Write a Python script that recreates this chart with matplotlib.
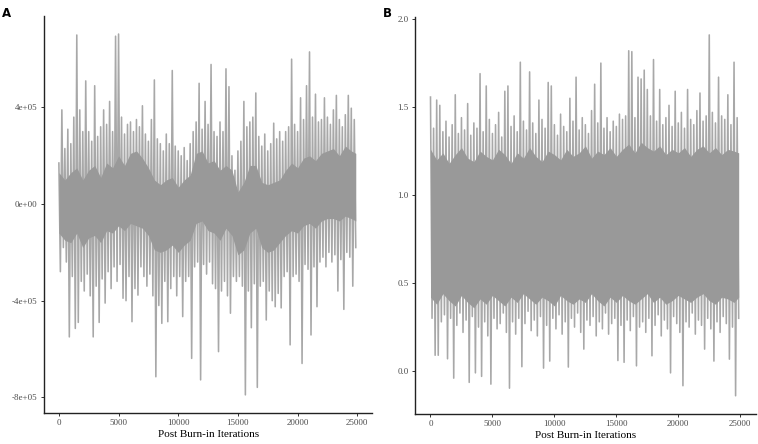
import matplotlib
matplotlib.use("Agg")
import matplotlib.pyplot as plt
import numpy as np

# ---------------- data ----------------
# Window width in iterations; each window holds its max and min of the trace
window = 250
n_iter = 25000

# Panel A: per-window maximum / minimum (units of 1e5)
a_hi = [1.7, 3.9, 2.3, 3.1, 2.5, 3.6, 7.0, 3.9, 3.0, 5.1,
        3.0, 2.6, 4.9, 2.8, 3.2, 3.9, 3.3, 4.25, 3.0, 6.95,
        7.04, 3.6, 2.9, 3.3, 3.4, 3.0, 3.5, 3.2, 4.07, 2.9,
        2.6, 3.5, 5.14, 2.7, 2.5, 2.2, 2.9, 2.5, 5.53, 2.4,
        2.2, 2.0, 2.34, 1.8, 2.5, 3.0, 3.4, 5.0, 3.1, 4.25,
        3.3, 5.78, 3.0, 2.8, 3.4, 3.0, 5.6, 4.86, 2.0, 1.4,
        2.2, 2.6, 4.25, 3.2, 3.4, 3.6, 4.6, 2.8, 2.4, 2.9,
        2.2, 2.5, 3.35, 2.7, 3.0, 2.6, 3.0, 3.2, 6.0, 3.3,
        3.0, 4.4, 3.5, 4.9, 6.3, 3.6, 4.55, 3.4, 3.5, 4.4,
        3.6, 3.3, 3.9, 4.5, 3.5, 3.2, 3.7, 4.5, 3.97, 3.5]
a_lo = [-2.8, -1.8, -2.4, -5.5, -3.0, -5.15, -4.9, -3.2, -3.6, -2.9,
        -3.8, -5.5, -3.4, -4.9, -3.1, -4.1, -2.8, -3.5, -2.6, -3.2,
        -2.5, -3.9, -4.0, -3.0, -4.87, -3.5, -3.77, -2.6, -3.0, -3.4,
        -2.9, -3.8, -7.15, -4.2, -4.94, -3.2, -4.87, -3.5, -3.0, -3.8,
        -3.0, -4.66, -3.2, -3.0, -6.39, -2.6, -2.4, -7.28, -2.5, -2.9,
        -2.4, -3.3, -3.5, -6.11, -3.6, -3.2, -3.8, -4.52, -3.0, -3.2,
        -3.0, -3.4, -7.9, -3.6, -5.12, -3.3, -7.59, -3.4, -3.2, -4.8,
        -3.6, -4.0, -4.25, -3.7, -4.3, -3.0, -2.8, -5.83, -3.0, -2.9,
        -3.2, -6.6, -2.5, -2.7, -5.42, -2.6, -4.25, -2.4, -2.2, -2.6,
        -2.0, -2.4, -2.1, -3.6, -2.3, -4.36, -2.0, -2.2, -3.4, -1.8]
# Panel A: bounds of the dense (solid) band, every 500 iterations (units of 1e5)
core_step = 500
a_core_hi = [1.3, 1.0, 1.3, 1.5, 1.0, 1.4, 1.6, 1.1, 1.7, 1.5,
             2.0, 1.6, 2.1, 2.2, 1.9, 1.5, 1.0, 0.8, 1.0, 1.1,
             0.7, 1.0, 1.2, 2.1, 2.2, 1.7, 1.8, 1.4, 1.6, 1.4,
             0.5, 0.9, 1.6, 1.6, 0.9, 0.8, 0.9, 1.0, 1.4, 1.7,
             1.5, 1.9, 2.0, 1.8, 2.1, 2.2, 2.3, 2.0, 2.4, 2.2, 2.1]
a_core_lo = [-1.2, -1.5, -1.6, -1.2, -1.8, -1.4, -1.3, -1.6, -1.1, -1.2,
             -0.9, -1.1, -0.8, -0.9, -1.0, -1.3, -1.9, -2.0, -1.9, -1.7,
             -2.0, -1.7, -1.5, -0.8, -0.7, -1.1, -1.2, -1.5, -1.0, -1.3,
             -2.1, -1.9, -1.2, -1.0, -1.8, -2.0, -1.9, -1.6, -1.3, -1.1,
             -1.2, -0.9, -0.8, -1.0, -0.7, -0.6, -0.6, -0.7, -0.5, -0.6, -0.7]
a_scale = 1e5

# Panel B: per-window maximum / minimum
b_hi = [1.557, 1.38, 1.54, 1.51, 1.36, 1.42, 1.33, 1.40, 1.57, 1.35,
        1.44, 1.37, 1.52, 1.34, 1.41, 1.38, 1.69, 1.36, 1.62, 1.43,
        1.35, 1.40, 1.47, 1.33, 1.59, 1.62, 1.39, 1.45, 1.36, 1.755,
        1.42, 1.37, 1.70, 1.41, 1.35, 1.54, 1.43, 1.38, 1.64, 1.62,
        1.40, 1.34, 1.46, 1.39, 1.36, 1.55, 1.42, 1.67, 1.37, 1.44,
        1.40, 1.35, 1.48, 1.63, 1.41, 1.75, 1.38, 1.44, 1.36, 1.42,
        1.39, 1.46, 1.43, 1.45, 1.82, 1.815, 1.44, 1.67, 1.66, 1.71,
        1.60, 1.45, 1.77, 1.42, 1.60, 1.40, 1.44, 1.51, 1.39, 1.59,
        1.41, 1.47, 1.38, 1.60, 1.43, 1.40, 1.48, 1.58, 1.42, 1.45,
        1.91, 1.47, 1.41, 1.67, 1.45, 1.43, 1.57, 1.40, 1.755, 1.44]
b_lo = [0.30, 0.09, 0.09, 0.28, 0.32, 0.07, 0.30, -0.04, 0.26, 0.33,
        0.22, 0.29, -0.064, 0.31, -0.01, 0.25, -0.03, 0.28, 0.20, -0.074,
        0.30, 0.24, 0.27, 0.33, 0.22, -0.097, 0.28, 0.21, 0.30, 0.025,
        0.27, 0.34, 0.23, 0.29, 0.20, 0.31, 0.017, 0.26, 0.057, 0.30,
        0.24, 0.32, 0.21, 0.28, 0.023, 0.30, 0.25, 0.33, 0.22, 0.125,
        0.29, 0.26, 0.31, 0.20, 0.28, 0.24, 0.33, 0.21, 0.27, 0.30,
        0.06, 0.26, 0.05, 0.29, 0.23, 0.31, 0.03, 0.25, 0.28, 0.22,
        0.30, 0.087, 0.26, 0.32, 0.20, 0.29, 0.24, -0.01, 0.31, 0.27,
        0.22, -0.083, 0.28, 0.25, 0.33, 0.21, 0.29, 0.26, 0.125, 0.30,
        0.24, 0.057, 0.28, 0.22, 0.31, 0.27, 0.068, 0.25, -0.14, 0.30]
# Panel B: bounds of the dense band, every 500 iterations
b_core_hi = [1.26, 1.20, 1.24, 1.18, 1.23, 1.27, 1.21, 1.19, 1.25, 1.22,
             1.20, 1.26, 1.23, 1.18, 1.24, 1.21, 1.27, 1.22, 1.19, 1.25,
             1.23, 1.20, 1.26, 1.22, 1.24, 1.28, 1.21, 1.25, 1.23, 1.27,
             1.22, 1.26, 1.29, 1.24, 1.30, 1.27, 1.25, 1.28, 1.23, 1.26,
             1.24, 1.27, 1.22, 1.26, 1.28, 1.24, 1.27, 1.23, 1.26, 1.25, 1.24]
b_core_lo = [0.42, 0.38, 0.44, 0.40, 0.37, 0.43, 0.39, 0.36, 0.41, 0.38,
             0.43, 0.40, 0.37, 0.42, 0.39, 0.44, 0.41, 0.38, 0.42, 0.40,
             0.37, 0.43, 0.40, 0.38, 0.41, 0.39, 0.44, 0.40, 0.37, 0.42,
             0.39, 0.43, 0.40, 0.38, 0.41, 0.44, 0.39, 0.42, 0.38, 0.40,
             0.43, 0.41, 0.39, 0.42, 0.44, 0.40, 0.38, 0.42, 0.41, 0.39, 0.42]

x_ticks = [0, 5000, 10000, 15000, 20000, 25000]
a_yticks = [4e5, 0, -4e5, -8e5]
a_yticklabels = ["4e+05", "0e+00", "-4e+05", "-8e+05"]
b_yticks = [0.0, 0.5, 1.0, 1.5, 2.0]
b_yticklabels = ["0.0", "0.5", "1.0", "1.5", "2.0"]
x_label = "Post Burn-in Iterations"
panel_labels = ["A", "B"]

# ---------------- drawing ----------------
def trace(hi, lo, scale=1.0):
    xs, ys = [], []
    for k, (h, l) in enumerate(zip(hi, lo)):
        xs += [k * window, k * window + window / 2]
        ys += [h * scale, l * scale]
    return np.array(xs), np.array(ys)

plt.rcParams["font.family"] = ["Liberation Serif", "DejaVu Serif"]
fig = plt.figure(figsize=(7.58, 4.44), dpi=100)

axA = fig.add_axes([0.058, 0.070, 0.433, 0.894])
axB = fig.add_axes([0.5475, 0.068, 0.4495, 0.894])

line_col = "#999999"
for ax, hi, lo, chi, clo, sc, yt, ytl in [
    (axA, a_hi, a_lo, a_core_hi, a_core_lo, a_scale, a_yticks, a_yticklabels),
    (axB, b_hi, b_lo, b_core_hi, b_core_lo, 1.0, b_yticks, b_yticklabels),
]:
    xs, ys = trace(hi, lo, sc)
    cx = np.arange(len(chi)) * core_step
    cx = np.minimum(cx, xs.max())
    ax.fill_between(cx, np.array(clo) * sc, np.array(chi) * sc,
                    color=line_col, lw=0)
    ax.plot(xs, ys, color=line_col, lw=1.15, alpha=0.85)
    ymin, ymax = ys.min(), ys.max()
    pad = 0.05 * (ymax - ymin)
    ax.set_ylim(ymin - pad, ymax + pad)
    ax.set_xlim(-0.05 * n_iter, 1.05 * n_iter)
    ax.set_xticks(x_ticks)
    ax.set_xticklabels([str(v) for v in x_ticks])
    ax.set_yticks(yt)
    ax.set_yticklabels(ytl)
    for s in ["top", "right"]:
        ax.spines[s].set_visible(False)
    for s in ["left", "bottom"]:
        ax.spines[s].set_linewidth(1.0)
        ax.spines[s].set_color("#222222")
    ax.tick_params(axis="both", length=2.5, width=0.7, color="#333333",
                   labelsize=6.5, labelcolor="#4d4d4d", pad=2)
    ax.set_xlabel(x_label, fontsize=8, color="black", labelpad=2)
    ax.set_facecolor("white")

fig.text(0.003, 0.985, panel_labels[0], fontsize=8.5, fontweight="bold",
         family="DejaVu Sans", va="top", ha="left")
fig.text(0.505, 0.985, panel_labels[1], fontsize=8.5, fontweight="bold",
         family="DejaVu Sans", va="top", ha="left")

fig.savefig("out.png", dpi=100, facecolor="white")
